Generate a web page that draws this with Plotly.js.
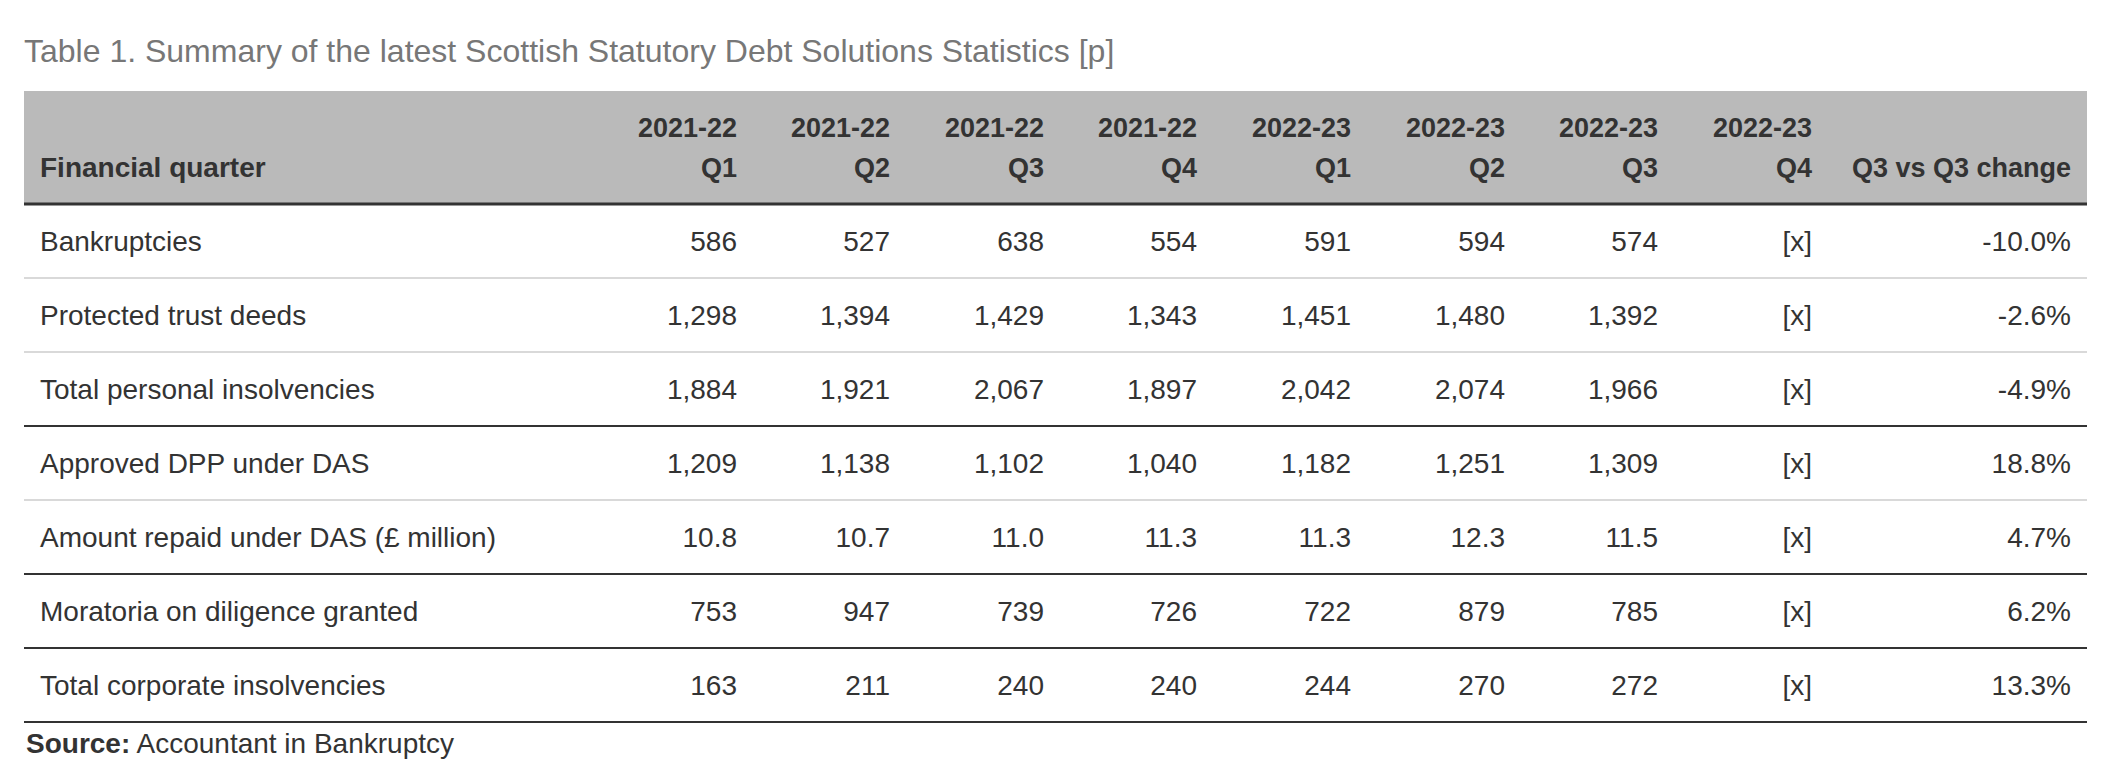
<!DOCTYPE html>
<html>
<head>
<meta charset="utf-8">
<script src="https://cdn.plot.ly/plotly-3.0.1.min.js"></script>
<style>html,body{margin:0;padding:0;background:#fff;}#chart{width:2108px;height:772px;}</style>
</head>
<body>
<div id="chart"></div>
<script>
// ---- data ----
const titleText = "Table 1. Summary of the latest Scottish Statutory Debt Solutions Statistics [p]";
const firstHeader = "Financial quarter";
const categories = [
  "Bankruptcies",
  "Protected trust deeds",
  "Total personal insolvencies",
  "Approved DPP under DAS",
  "Amount repaid under DAS (£ million)",
  "Moratoria on diligence granted",
  "Total corporate insolvencies"
];
const quarterYears = ["2021-22","2021-22","2021-22","2021-22","2022-23","2022-23","2022-23","2022-23"];
const quarterNames = ["Q1","Q2","Q3","Q4","Q1","Q2","Q3","Q4"];
const q2122_1 = [586, 1298, 1884, 1209, 10.8, 753, 163];
const q2122_2 = [527, 1394, 1921, 1138, 10.7, 947, 211];
const q2122_3 = [638, 1429, 2067, 1102, 11.0, 739, 240];
const q2122_4 = [554, 1343, 1897, 1040, 11.3, 726, 240];
const q2223_1 = [591, 1451, 2042, 1182, 11.3, 722, 244];
const q2223_2 = [594, 1480, 2074, 1251, 12.3, 879, 270];
const q2223_3 = [574, 1392, 1966, 1309, 11.5, 785, 272];
const q2223_4 = [null, null, null, null, null, null, null];
const changeHeader = "Q3 vs Q3 change";
const changePct = [-10.0, -2.6, -4.9, 18.8, 4.7, 6.2, 13.3];
const decimalRows = [false, false, false, false, true, false, false];
const rowRuleAfter = ["light","light","dark","light","dark","dark","dark"];
const sourceLabel = "Source:";
const sourceText = "Accountant in Bankruptcy";

// ---- layout constants ----
const W = 2108, H = 772;
const tableLeft = 24, tableRight = 2087;
const labelX = 40;
const quarterRight = [737, 890, 1044, 1197, 1351, 1505, 1658, 1812];
const changeRight = 2071;
const rowH = 74, row0Center = 244;       // pixel where row 0's text is anchored
const ruleShift = -3 / rowH;             // rules sit slightly above the text-centre grid
const yTop = -row0Center / rowH, yBottom = (H - row0Center) / rowH;
const pxToY = px => (px - row0Center) / rowH;
const headerTop = pxToY(91);
const headerBottom = pxToY(204);
const headerLine1 = pxToY(130);
const headerLine2 = pxToY(170);
const textColor = "#333333";
const fontFam = "Liberation Sans, Arial, Helvetica, sans-serif";
const bodySize = 28;
const headSize = 27;

const quarterSeries = [q2122_1, q2122_2, q2122_3, q2122_4, q2223_1, q2223_2, q2223_3, q2223_4];
function fmt(v, dec) {
  if (v === null || v === undefined) return "[x]";
  if (dec) return v.toFixed(1);
  return v.toLocaleString("en-GB");
}
const rowIdx = categories.map((_, i) => i);

const traces = [];
// label column
traces.push({
  type: "scatter", mode: "text", x: categories.map(() => labelX), y: rowIdx,
  text: categories, textposition: "middle right",
  textfont: {family: fontFam, size: bodySize, color: textColor}, hoverinfo: "skip", showlegend: false
});
// quarter columns
quarterSeries.forEach((s, c) => {
  traces.push({
    type: "scatter", mode: "text", x: s.map(() => quarterRight[c]), y: rowIdx,
    text: s.map((v, i) => fmt(v, decimalRows[i])), textposition: "middle left",
    textfont: {family: fontFam, size: bodySize, color: textColor}, hoverinfo: "skip", showlegend: false
  });
});
// change column
traces.push({
  type: "scatter", mode: "text", x: changePct.map(() => changeRight), y: rowIdx,
  text: changePct.map(v => v.toFixed(1) + "%"), textposition: "middle left",
  textfont: {family: fontFam, size: bodySize, color: textColor}, hoverinfo: "skip", showlegend: false
});
// header rows
const hdrFont = {family: fontFam, size: headSize, color: textColor};
traces.push({
  type: "scatter", mode: "text", x: quarterRight, y: quarterRight.map(() => headerLine1),
  text: quarterYears.map(t => "<b>" + t + "</b>"), textposition: "middle left",
  textfont: hdrFont, hoverinfo: "skip", showlegend: false
});
traces.push({
  type: "scatter", mode: "text", x: quarterRight.concat([changeRight]), y: quarterRight.concat([changeRight]).map(() => headerLine2),
  text: quarterNames.concat([changeHeader]).map(t => "<b>" + t + "</b>"), textposition: "middle left",
  textfont: hdrFont, hoverinfo: "skip", showlegend: false
});
traces.push({
  type: "scatter", mode: "text", x: [labelX], y: [headerLine2],
  text: ["<b>" + firstHeader + "</b>"], textposition: "middle right",
  textfont: {family: fontFam, size: bodySize, color: textColor}, hoverinfo: "skip", showlegend: false
});

const shapes = [];
shapes.push({type: "rect", xref: "x", yref: "y", x0: tableLeft, x1: tableRight, y0: headerTop, y1: headerBottom,
  fillcolor: "#bababa", line: {width: 0}, layer: "below"});
shapes.push({type: "line", xref: "x", yref: "y", x0: tableLeft, x1: tableRight, y0: headerBottom, y1: headerBottom,
  line: {color: "#333333", width: 3}});
rowRuleAfter.forEach((k, i) => {
  const yy = i + 0.5 + ruleShift;
  shapes.push({type: "line", xref: "x", yref: "y", x0: tableLeft, x1: tableRight, y0: yy, y1: yy,
    line: {color: k === "dark" ? "#333333" : "#d9d9d9", width: 2}});
});

const layout = {
  width: W, height: H,
  margin: {l: 0, r: 0, t: 0, b: 0, pad: 0},
  paper_bgcolor: "#ffffff", plot_bgcolor: "#ffffff",
  showlegend: false,
  title: {text: titleText, x: 24 / W, xanchor: "left", xref: "paper", yref: "container",
    y: 1 - 51 / H, yanchor: "middle",
    font: {family: fontFam, size: 32, color: "#777777"}},
  xaxis: {range: [0, W], visible: false, fixedrange: true},
  yaxis: {range: [yBottom, yTop], visible: false, fixedrange: true},
  shapes: shapes,
  annotations: [{
    xref: "x", yref: "y", x: tableLeft, y: pxToY(743), xanchor: "left", yanchor: "middle",
    text: "<b>" + sourceLabel + "</b> " + sourceText, showarrow: false,
    font: {family: fontFam, size: bodySize, color: textColor}
  }]
};

Plotly.newPlot("chart", traces, layout, {displayModeBar: false, staticPlot: true});
</script>
</body>
</html>
